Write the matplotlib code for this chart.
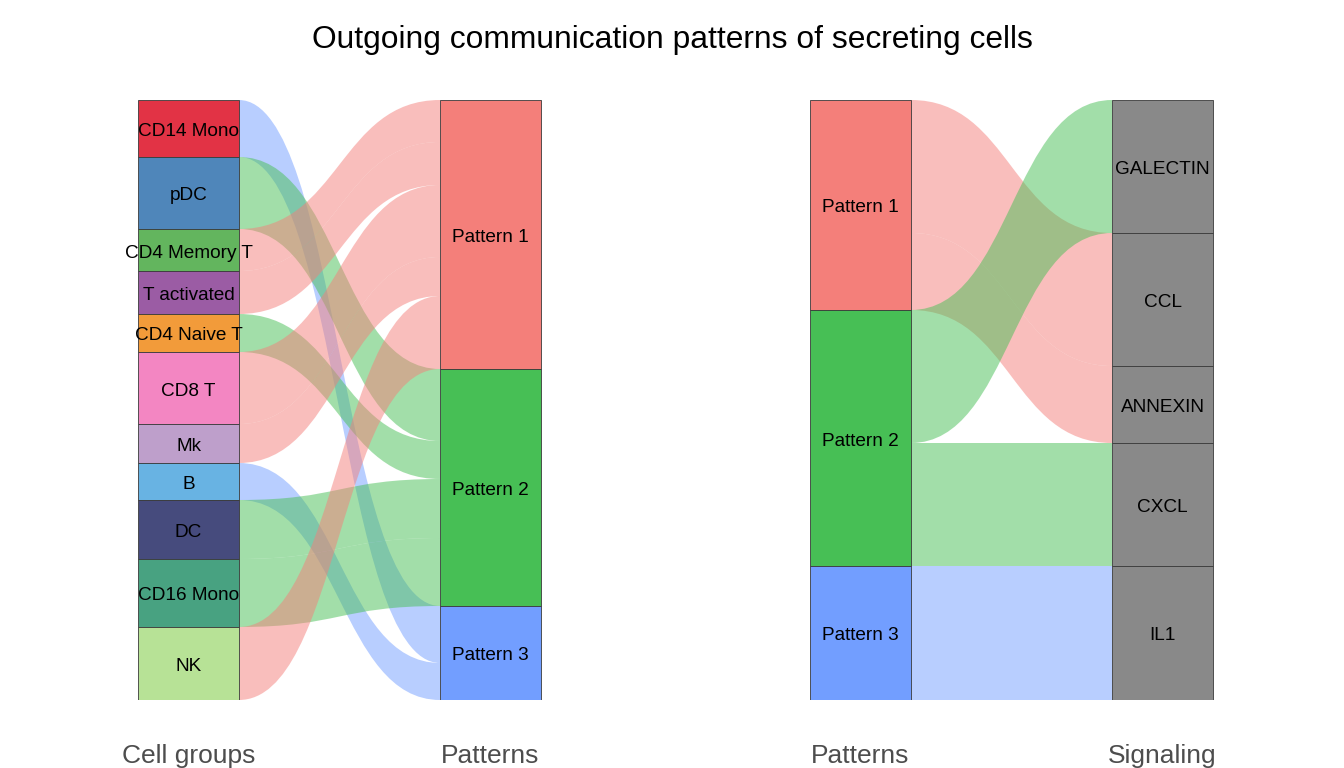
import matplotlib
matplotlib.use("Agg")
import matplotlib.pyplot as plt
from matplotlib.path import Path
from matplotlib.patches import PathPatch, Rectangle
import matplotlib.transforms as mtransforms

plt.rcParams['font.family'] = ['Liberation Sans', 'DejaVu Sans']

# ---------------- data ----------------
cell_groups = ["CD14 Mono", "pDC", "CD4 Memory T", "T activated", "CD4 Naive T",
               "CD8 T", "Mk", "B", "DC", "CD16 Mono", "NK"]
cell_colors = ["#E23345", "#4F86BA", "#63B55E", "#9B5CA4", "#F29B3A",
               "#F386C2", "#BE9FCB", "#68B3E3", "#464B7D", "#48A281", "#B7E296"]
cell_pattern = ["Pattern 3", "Pattern 2", "Pattern 1", "Pattern 1", "Pattern 2",
                "Pattern 1", "Pattern 1", "Pattern 3", "Pattern 2", "Pattern 2", "Pattern 1"]
cell_values = [57, 72, 42, 43, 38, 72, 39, 37, 59, 68, 73]

patterns = ["Pattern 1", "Pattern 2", "Pattern 3"]
pattern_colors = ["#F47F7A", "#47BF55", "#729EFF"]

signaling = ["GALECTIN", "CCL", "ANNEXIN", "CXCL", "IL1"]
sig_pattern = ["Pattern 2", "Pattern 1", "Pattern 1", "Pattern 2", "Pattern 3"]
sig_values = [133, 133, 77, 123, 134]
sig_color = "#898989"

title = "Outgoing communication patterns of secreting cells"

W, H = 1344, 768
fig = plt.figure(figsize=(W / 100, H / 100), dpi=100)

BOX_W = 1 / 3
EDGE = "#3A3A3A"


def stack(names, values_by_name):
    out = {}
    y = 0.0
    for n in names:
        v = values_by_name.get(n, 0)
        out[n] = (y, y + v)
        y += v
    return out, y


def ribbon(ax, x0, y0a, y0b, x1, y1a, y1b, color):
    xm = (x0 + x1) / 2
    verts = [(x0, y0a), (xm, y0a), (xm, y1a), (x1, y1a),
             (x1, y1b),
             (xm, y1b), (xm, y0b), (x0, y0b),
             (x0, y0a)]
    codes = [Path.MOVETO, Path.CURVE4, Path.CURVE4, Path.CURVE4,
             Path.LINETO,
             Path.CURVE4, Path.CURVE4, Path.CURVE4,
             Path.CLOSEPOLY]
    ax.add_patch(PathPatch(Path(verts, codes), facecolor=color, alpha=0.5,
                           edgecolor="none", lw=0, zorder=1))


def alluvial(ax, left_names, left_colors, right_names, right_colors,
             flow_src, flow_dst, flow_val, left_label, right_label, color_by):
    lval = {}
    for s, v in zip(flow_src, flow_val):
        lval[s] = lval.get(s, 0) + v
    rval = {}
    for d, v in zip(flow_dst, flow_val):
        rval[d] = rval.get(d, 0) + v
    lpos, total = stack(left_names, lval)
    rpos, _ = stack(right_names, rval)

    idx = list(range(len(flow_val)))
    lcur = {n: lpos[n][0] for n in left_names}
    rcur = {n: rpos[n][0] for n in right_names}
    lseg, rseg = {}, {}
    for i in sorted(idx, key=lambda i: (left_names.index(flow_src[i]), right_names.index(flow_dst[i]))):
        s = flow_src[i]
        lseg[i] = (lcur[s], lcur[s] + flow_val[i])
        lcur[s] += flow_val[i]
    for i in sorted(idx, key=lambda i: (right_names.index(flow_dst[i]), left_names.index(flow_src[i]))):
        d = flow_dst[i]
        rseg[i] = (rcur[d], rcur[d] + flow_val[i])
        rcur[d] += flow_val[i]

    for i in sorted(idx, key=lambda i: (-right_names.index(flow_dst[i]), -left_names.index(flow_src[i]))):
        if color_by == "dst":
            c = right_colors[right_names.index(flow_dst[i])]
        else:
            c = left_colors[left_names.index(flow_src[i])]
        ribbon(ax, 1 + BOX_W / 2, lseg[i][0], lseg[i][1],
               2 - BOX_W / 2, rseg[i][0], rseg[i][1], c)

    shift = mtransforms.ScaledTranslation(0, -3 / 100, fig.dpi_scale_trans)
    for x, names, colors, pos in ((1, left_names, left_colors, lpos),
                                  (2, right_names, right_colors, rpos)):
        for n, c in zip(names, colors):
            t, b = pos[n]
            if b - t <= 0:
                continue
            ax.add_patch(Rectangle((x - BOX_W / 2, t), BOX_W, b - t, facecolor=c,
                                   edgecolor=EDGE, lw=0.6, zorder=2))
            ax.text(x, (t + b) / 2, n, ha="center", va="center", fontsize=13.7,
                    color="black", zorder=3, transform=ax.transData + shift)

    ax.set_xlim(0.6, 2.4)
    ax.set_ylim(total, 0)
    ax.axis("off")
    for x, lab in ((1, left_label), (2, right_label)):
        ax.text(x, total * 1.105, lab, ha="center", va="baseline",
                fontsize=19, color="#4D4D4D", clip_on=False)


px_unit = 302.0
ax1 = fig.add_axes([(188.5 - 0.4 * px_unit) / W, 68 / H, 1.8 * px_unit / W, 600 / H])
ax2 = fig.add_axes([(860.5 - 0.4 * px_unit) / W, 68 / H, 1.8 * px_unit / W, 600 / H])

alluvial(ax1, cell_groups, cell_colors, patterns, pattern_colors,
         cell_groups, cell_pattern, cell_values, "Cell groups", "Patterns", "dst")
alluvial(ax2, patterns, pattern_colors, signaling, [sig_color] * len(signaling),
         sig_pattern, signaling, sig_values, "Patterns", "Signaling", "src")

fig.text(0.5, 1 - 40 / H, title, ha="center", va="center", fontsize=22.9, color="black")

fig.savefig("out.png", dpi=100)
